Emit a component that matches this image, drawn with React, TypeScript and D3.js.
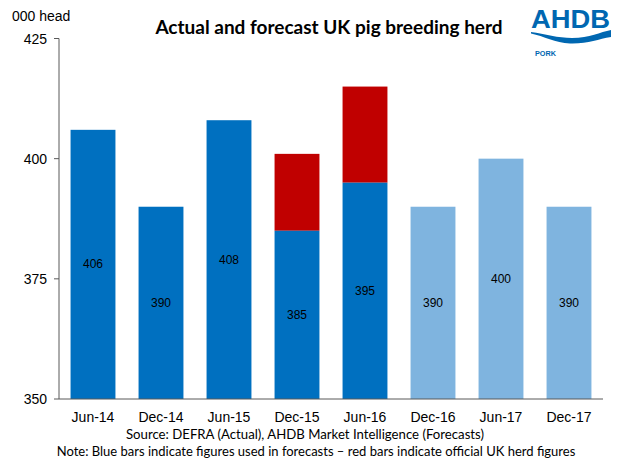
import React from "react";
import * as d3 from "d3";

const categories = ["Jun-14", "Dec-14", "Jun-15", "Dec-15", "Jun-16", "Dec-16", "Jun-17", "Dec-17"];
const forecastBase = [406, 390, 408, 385, 395, 390, 400, 390];
const officialFigures = [null, null, null, 401, 415, null, null, null];
const isForecast = [false, false, false, false, false, true, true, true];
const yTicks = [350, 375, 400, 425];

const W = 625, H = 461;
const margin = { left: 59, right: 22, top: 38.5, bottom: 62 };

export default function App() {
  const x = d3.scaleBand<string>().domain(categories).range([margin.left, W - margin.right]).paddingInner(0.34).paddingOuter(0.17);
  const y = d3.scaleLinear().domain([350, 425]).range([H - margin.bottom, margin.top]);
  const y0 = y(350);
  const axisColor = "#595959";
  return (
    <svg width={W} height={H} style={{ position: "absolute", left: 0, top: 0 }}>
      <rect width={W} height={H} fill="#fff" />
      {categories.map((c, i) => {
        const v = forecastBase[i];
        const off = officialFigures[i];
        const bx = x(c)!;
        const bw = x.bandwidth();
        return (
          <g key={c}>
            {off != null && (
              <rect x={bx} y={y(off)} width={bw} height={y(v) - y(off)} fill="#C00000" />
            )}
            <rect x={bx} y={y(v)} width={bw} height={y0 - y(v)} fill={isForecast[i] ? "#7FB4DF" : "#0070C0"} />
            <text x={bx + bw / 2} y={(y(v) + y0) / 2} textAnchor="middle" dominantBaseline="central" fontFamily="Liberation Sans, Arial" fontSize={12} fill="#000">
              {v}
            </text>
            <text x={bx + bw / 2} y={y0 + 23} textAnchor="middle" fontFamily="Liberation Sans, Arial" fontSize={14} fill="#000">
              {c}
            </text>
          </g>
        );
      })}
      <line x1={margin.left} x2={margin.left} y1={margin.top} y2={y0} stroke={axisColor} strokeWidth={1} />
      <line x1={margin.left} x2={W - margin.right} y1={y0} y2={y0} stroke={axisColor} strokeWidth={1} />
      {yTicks.map((t) => (
        <g key={t}>
          <line x1={margin.left - 5} x2={margin.left} y1={y(t)} y2={y(t)} stroke={axisColor} />
          <text x={47} y={y(t)} textAnchor="end" dominantBaseline="central" fontFamily="Liberation Sans, Arial" fontSize={14} fill="#000">
            {t}
          </text>
        </g>
      ))}
      <text x={12} y={21} fontFamily="Liberation Sans, Arial" fontSize={14} fill="#000">000 head</text>
      <text x={329} y={34} textAnchor="middle" fontFamily="Lato, Open Sans" fontWeight="bold" fontSize={19} fill="#000">
        Actual and forecast UK pig breeding herd
      </text>
      <text x={305} y={439} textAnchor="middle" fontFamily="Lato, Open Sans" fontSize={13.2} fill="#000">
        Source: DEFRA (Actual), AHDB Market Intelligence (Forecasts)
      </text>
      <text x={316} y={456} textAnchor="middle" fontFamily="Lato, Open Sans" fontSize={13} fill="#000">
        Note: Blue bars indicate figures used in forecasts – red bars indicate official UK herd figures
      </text>
      <g>
        <text x={531} y={28} textLength={79} lengthAdjust="spacingAndGlyphs" fontFamily="Liberation Sans, Arial" fontWeight="bold" fontSize={25} fill="#0067B1">
          AHDB
        </text>
        <path d="M531,32 C545,34 558,38 572,38 C590,38 600,32 611,30 L611,37 C598,39 588,44 570,43.5 C555,43 544,36 531,33.5 Z" fill="#0067B1" />
        <text x={535} y={55.5} textLength={21} lengthAdjust="spacingAndGlyphs" fontFamily="Liberation Sans, Arial" fontWeight="bold" fontSize={7} fill="#0067B1">PORK</text>
      </g>
    </svg>
  );
}
